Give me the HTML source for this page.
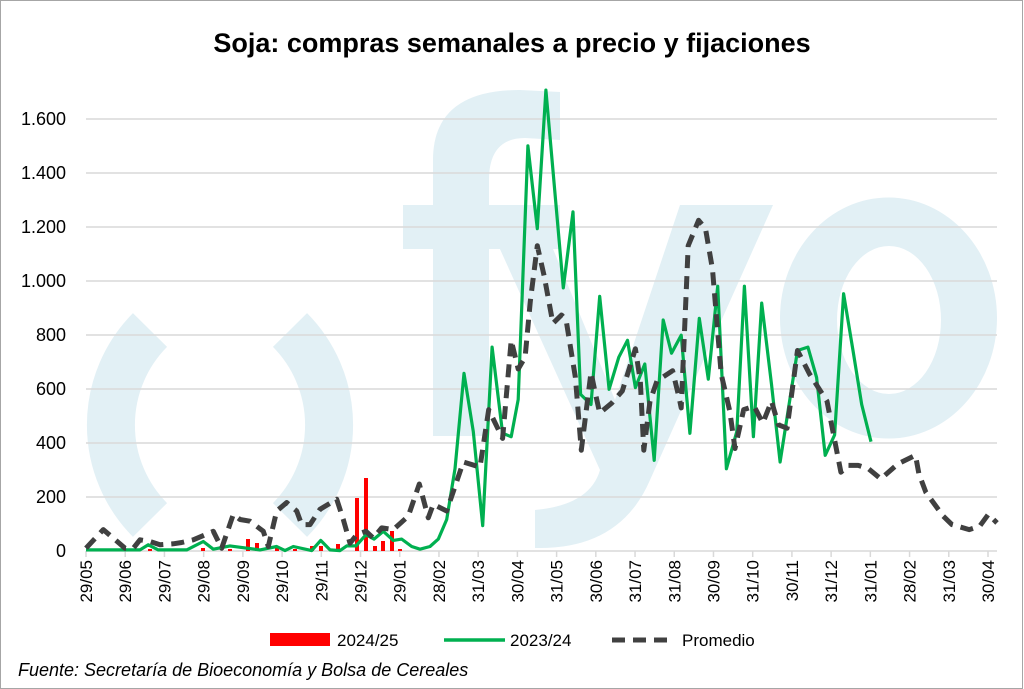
<!DOCTYPE html>
<html><head><meta charset="utf-8"><style>
html,body{margin:0;padding:0;background:#fff}
svg{display:block}
text{font-family:"Liberation Sans",Calibri,sans-serif}
</style></head><body>
<svg id="s" width="1024" height="689" xmlns="http://www.w3.org/2000/svg">
<rect x="0.5" y="0.5" width="1022" height="688" fill="#fff" stroke="#a6a6a6"/>
<g fill="#e2f0f5" stroke="none">
 <path d="M433 436 V160 Q433 90 520 90 L560 92 V140 L525 138 Q489 138 489 180 V436 Z"/>
 <rect x="403" y="205" width="157" height="44"/>
 <path d="M480 205 H535 L615 400 L680 205 H773 L650 480 Q620 550 535 548 L535 510 Q590 505 600 470 Z"/>
 <path fill-rule="evenodd" d="M780 318 A108 120 0 1 0 997 318 A108 120 0 1 0 780 318 Z M837 320 A52 74 0 1 0 941 320 A52 74 0 1 0 837 320 Z"/>
</g>
<g fill="none" stroke="#e2f0f5" stroke-width="48">
 <path d="M150 330 A135 135 0 0 0 150 520"/>
 <path d="M290 330 A135 135 0 0 1 290 520"/>
</g>
<text x="512" y="52" text-anchor="middle" font-size="27" font-weight="bold" fill="#000">Soja: compras semanales a precio y fijaciones</text>
<g id="grid" stroke="#d9d9d9" stroke-width="1.5"></g>
<g id="ylab" font-size="18" fill="#000" text-anchor="end"></g>
<g id="xlab" font-size="17" fill="#000"></g>
<g id="bars" fill="#ff0000"></g>
<polyline id="green" fill="none" stroke="#00b050" stroke-width="3.2" stroke-linejoin="round"/>
<polyline id="dash" fill="none" stroke="#404040" stroke-width="5" stroke-dasharray="13,8" stroke-linejoin="round"/>
<rect x="270" y="633" width="60" height="13" fill="#ff0000"/>
<text x="337" y="646" font-size="17">2024/25</text>
<line x1="444" y1="640" x2="505" y2="640" stroke="#00b050" stroke-width="3.5"/>
<text x="510" y="646" font-size="17">2023/24</text>
<line x1="612" y1="640" x2="673" y2="640" stroke="#404040" stroke-width="5" stroke-dasharray="13,8"/>
<text x="682" y="646" font-size="17">Promedio</text>
<text x="18" y="676" font-size="18" font-style="italic">Fuente: Secretaría de Bioeconomía y Bolsa de Cereales</text>
</svg>
<script>
var NS="http://www.w3.org/2000/svg";
function el(p,t,a,txt){var e=document.createElementNS(NS,t);for(var k in a)e.setAttribute(k,a[k]);if(txt)e.textContent=txt;document.getElementById(p).appendChild(e);return e;}
for(var i=0;i<=8;i++){var y=551-i*54;el("grid","line",{x1:86,x2:997,y1:y,y2:y});
el("ylab","text",{x:66,y:y+6},i==0?"0":(i*200>=1000?(Math.floor(i*200/1000)+"."+String(i*200%1000).padStart(3,"0")):String(i*200)));}
var labs="29/05 29/06 29/07 29/08 29/09 29/10 29/11 29/12 29/01 28/02 31/03 30/04 31/05 30/06 31/07 31/08 30/09 31/10 30/11 31/12 31/01 28/02 31/03 30/04".split(" ");
for(var i=0;i<labs.length;i++){var x=86+i*(988-86)/23;el("grid","line",{x1:x,x2:x,y1:551,y2:557});
el("xlab","text",{transform:"translate("+(x+6)+",560) rotate(-90)","text-anchor":"end"},labs[i]);}
function c1(a){return [a[0]/3,80+a[1]/2.958];}
function c2(a){return [480+a[0]/2.882,80+a[1]/2.958];}
var g1=[[258,1390],[420,1390],[445,1375],[475,1390],[560,1390],[610,1365],[640,1388],[690,1378],[780,1390],[830,1380],[855,1392],[880,1380],[935,1392],[962,1362],[990,1390],[1020,1392],[1040,1378],[1068,1378],[1098,1345],[1122,1358],[1150,1335],[1180,1362],[1205,1358],[1235,1380],[1260,1388],[1290,1380],[1315,1358],[1340,1300],[1365,1150],[1392,868],[1420,1040],[1448,1318]];
var g2=[[35,790],[65,1045],[90,1055],[110,945],[138,195],[165,440],[190,30],[240,615],[268,390],[290,930],[320,960],[345,640],[372,915],[400,820],[425,770],[448,910],[475,840],[502,1125],[528,710],[552,808],[580,755],[605,1045],[632,705],[658,885],[685,610],[710,1150],[740,1040],[762,610],[788,1055],[812,660],[840,900],[865,1130],[915,800],[945,790],[970,880],[995,1110],[1022,1050],[1048,632],[1075,800],[1100,960],[1127,1070]];
var d1=[[258,1385],[310,1330],[375,1385],[400,1385],[420,1360],[450,1365],[480,1375],[520,1372],[545,1368],[580,1360],[640,1335],[665,1385],[700,1285],[720,1300],[750,1305],[790,1335],[805,1380],[830,1275],[860,1250],[890,1275],[905,1315],[930,1315],[960,1270],[1010,1240],[1030,1300],[1050,1370],[1070,1345],[1098,1335],[1120,1355],[1145,1325],[1180,1330],[1225,1290],[1258,1195],[1285,1295],[1300,1255],[1340,1275],[1390,1130],[1440,1145]];
var d2=[[25,975],[65,1060],[90,770],[110,855],[130,820],[145,655],[165,490],[185,580],[210,720],[235,695],[248,710],[275,880],[292,1095],[320,865],[330,915],[345,985],[380,955],[410,920],[448,795],[462,890],[472,1095],[490,950],[510,890],[555,860],[575,945],[580,970],[600,490],[630,415],[650,440],[670,560],[695,870],[720,980],[735,1090],[760,975],[790,965],[815,1015],[840,950],[860,1020],[885,1030],[915,800],[950,870],[1000,950],[1040,1160],[1060,1140],[1090,1140],[1120,1150],[1155,1180],[1205,1135],[1255,1110],[1265,1165],[1285,1220],[1335,1290],[1360,1315],[1410,1330],[1440,1320],[1465,1285],[1490,1310]];
function pts(a,b){return a.map(c1).concat(b.map(c2)).map(function(p){return p[0].toFixed(1)+","+p[1].toFixed(1)}).join(" ");}
document.getElementById("green").setAttribute("points",pts(g1,g2));
document.getElementById("dash").setAttribute("points",pts(d1,d2));
var bars=[[203,548],[248,539],[257,543],[277,547],[312,546],[321,546],[338,544],[357,498],[366,478],[375,546],[383,541],[392,531],[150,549],[165,549],[230,549],[295,549],[400,549]];
bars.forEach(function(b){el("bars","rect",{x:b[0]-2,y:b[1],width:4,height:551-b[1]});});
</script>
</body></html>
